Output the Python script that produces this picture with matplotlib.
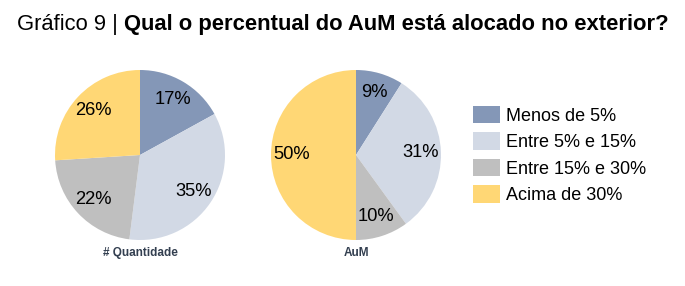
import matplotlib.pyplot as plt
from matplotlib.patches import Patch

plt.rcParams['font.family'] = ['Liberation Sans', 'DejaVu Sans']

categories = ['Menos de 5%', 'Entre 5% e 15%', 'Entre 15% e 30%', 'Acima de 30%']
quantidade = [17, 35, 22, 26]
aum = [9, 31, 10, 50]
colors = ['#8497B7', '#D2D9E5', '#BFBFBF', '#FFD775']

fig = plt.figure(figsize=(6.85, 2.86), dpi=100)
renderer = fig.canvas.get_renderer()

# title: normal part + bold part side by side, centered together
a = fig.text(0, 0.915, 'Gráfico 9 | ', fontsize=15.8, va='center')
b = fig.text(0, 0.915, 'Qual o percentual do AuM está alocado no exterior?',
             fontsize=15.8, fontweight='bold', va='center')
wa = a.get_window_extent(renderer).width
wb = b.get_window_extent(renderer).width
x0 = (685 - wa - wb) / 2 / 685
a.set_x(x0)
b.set_x(x0 + wa / 685)

pw = 170 / 685
ph = 170 / 286
ax1 = fig.add_axes([55 / 685, 46 / 286, pw, ph])
ax2 = fig.add_axes([271 / 685, 46 / 286, pw, ph])

for ax, vals, name in [(ax1, quantidade, '# Quantidade'), (ax2, aum, 'AuM')]:
    ax.pie(vals, colors=colors, startangle=90, counterclock=False,
           labels=[f'{v}%' for v in vals], labeldistance=0.76,
           textprops={'fontsize': 13.2, 'ha': 'center', 'va': 'center'})
    ax.set_xlim(-1, 1)
    ax.set_ylim(-1, 1)
    ax.set_aspect('equal')
    ax.text(0, -1.15, name, ha='center', va='center', fontsize=8.5,
            fontweight='bold', color='#333F50')

handles = [Patch(facecolor=c, edgecolor='none') for c in colors]
fig.legend(handles, categories, loc='center left', bbox_to_anchor=(466 / 685, 131 / 286),
           frameon=False, fontsize=13, handlelength=1.5, handleheight=1.1,
           handletextpad=0.3, labelspacing=0.42, borderaxespad=0)

fig.savefig('out.png', dpi=100)
